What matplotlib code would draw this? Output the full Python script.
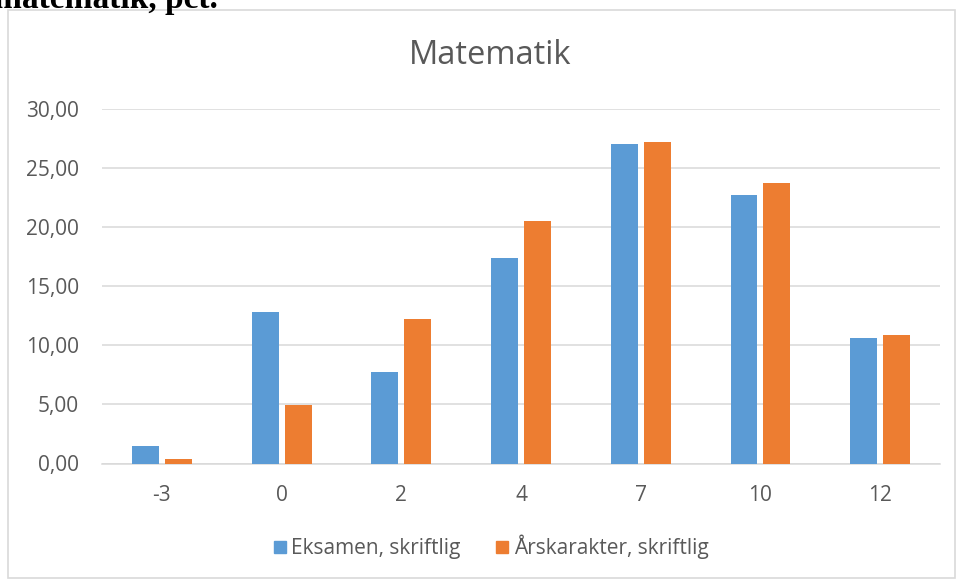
import matplotlib
matplotlib.use("Agg")
import matplotlib.pyplot as plt
import numpy as np
from matplotlib.patches import Rectangle
from matplotlib.lines import Line2D

categories = ["-3", "0", "2", "4", "7", "10", "12"]
eksamen = [1.5, 12.85, 7.75, 17.4, 27.05, 22.7, 10.6]
aarskarakter = [0.35, 4.95, 12.25, 20.55, 27.2, 23.8, 10.9]
series_names = ["Eksamen, skriftlig", "Årskarakter, skriftlig"]
yticks = [0, 5, 10, 15, 20, 25, 30]
ytick_labels = ["0,00", "5,00", "10,00", "15,00", "20,00", "25,00", "30,00"]
title = "Matematik"
header = "matematik, pct."

BLUE = "#5B9BD5"
ORANGE = "#ED7D31"
GRAY = "#595959"
GRID = "#D9D9D9"

plt.rcParams['font.family'] = ['Open Sans', 'DejaVu Sans']

W, H = 957, 579
fig = plt.figure(figsize=(W / 100, H / 100), dpi=100)

def fx(px):
    return px / W

def fy(py):
    return 1 - py / H

# outer chart border
fig.patches.append(Rectangle((fx(8), fy(578)), fx(955) - fx(8), fy(10) - fy(578),
                             transform=fig.transFigure, fill=False,
                             edgecolor=GRID, linewidth=1.2))

# cut-off header text above chart (only its lower part is visible)
fig.text(fx(-6), fy(8), header, family=['Liberation Serif'], fontweight='bold',
         fontsize=24, color='black', ha='left', va='baseline')

ax = fig.add_axes([fx(102), fy(463.5), fx(940) - fx(102), fy(109.3) - fy(463.5)])
x = np.arange(len(categories))
bw = 0.225
off = 0.1375
ax.bar(x - off, eksamen, bw, color=BLUE, zorder=3)
ax.bar(x + off, aarskarakter, bw, color=ORANGE, zorder=3)

ax.set_xlim(-0.5, len(categories) - 0.5)
ax.set_ylim(0, 30)
ax.set_yticks(yticks)
ax.set_yticklabels(ytick_labels)
ax.set_xticks(x)
ax.set_xticklabels(categories)
ax.tick_params(axis='y', length=0, pad=16.5, labelsize=15, labelcolor=GRAY)
ax.tick_params(axis='x', length=0, pad=15.5, labelsize=15, labelcolor=GRAY)
ax.yaxis.grid(True, color=GRID, linewidth=1.1, zorder=0)
ax.set_axisbelow(True)
for s in ['top', 'right', 'left']:
    ax.spines[s].set_visible(False)
ax.spines['bottom'].set_color(GRID)
ax.spines['bottom'].set_linewidth(1.1)

fig.text(fx(490), fy(55), title, ha='center', va='center', fontsize=23.5, color=GRAY)

handles = [Line2D([], [], marker='s', linestyle='none', markersize=8.5,
                  markerfacecolor=c, markeredgecolor=c) for c in (BLUE, ORANGE)]
fig.legend(handles, series_names, loc='center', bbox_to_anchor=(fx(491), fy(547)),
           ncol=2, frameon=False, fontsize=15, labelcolor=GRAY,
           handlelength=0.6, handletextpad=0.25, columnspacing=1.7)

fig.savefig("out.png", dpi=100, facecolor='white')
